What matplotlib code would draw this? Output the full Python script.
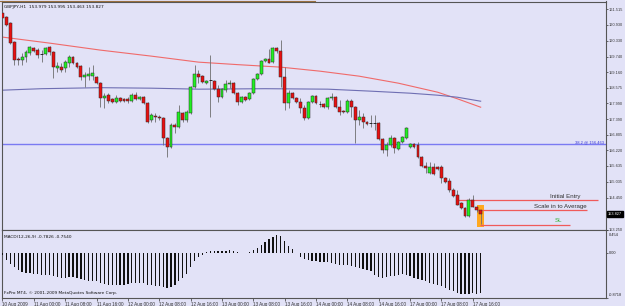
import matplotlib
matplotlib.use("Agg")
import matplotlib.pyplot as plt
import matplotlib.transforms as mtrans
from matplotlib.lines import Line2D
from matplotlib.patches import Rectangle

# ---------------- data ----------------
title_text = "GBPJPY,H1  153.979 153.995 153.463 153.827"

opens = [161.376, 161.226, 161.000, 160.286, 159.647, 159.609, 159.722, 159.872, 160.060, 159.985,
         159.833, 159.833, 160.098, 159.910, 159.308, 159.346, 159.308, 159.496, 159.722, 159.496,
         159.383, 158.970, 159.007, 159.007, 158.970, 158.744, 158.180, 158.293, 158.143, 158.030,
         158.180, 158.143, 158.143, 158.067, 158.293, 158.143, 158.218, 157.992, 157.353, 157.503,
         157.466, 157.428, 156.677, 156.338, 157.165, 157.090, 157.616, 157.353, 157.616, 158.594,
         159.083, 159.007, 158.744, 158.857, 158.819, 158.519, 158.218, 158.481, 158.707, 158.744,
         158.368, 158.030, 158.218, 158.143, 158.368, 158.895, 159.083, 159.571, 159.647, 159.534,
         160.060, 159.947, 158.970, 157.992, 158.368, 158.180, 158.030, 157.804, 157.428, 158.030,
         158.255, 157.955, 157.955, 157.842, 158.180, 158.218, 157.842, 157.691, 157.654, 158.067,
         157.842, 157.353, 157.466, 157.278, 157.240, 157.240, 157.240, 156.639, 156.225, 156.413,
         156.677, 156.263, 156.526, 156.677, 156.338, 156.451, 156.413, 155.962, 155.623, 155.361,
         155.586, 155.586, 155.586, 155.172, 155.059, 154.721, 154.533, 154.232, 154.044, 153.743,
         154.345, 154.082, 153.979]
highs = [161.451, 161.263, 161.038, 160.323, 159.722, 159.872, 159.985, 160.135, 160.098, 160.060,
         159.985, 160.098, 160.135, 159.947, 159.534, 159.496, 159.609, 159.797, 159.759, 159.534,
         159.421, 159.158, 159.346, 159.421, 159.007, 158.782, 158.368, 158.368, 158.180, 158.293,
         158.218, 158.180, 158.218, 158.368, 158.406, 158.255, 158.255, 158.030, 157.616, 157.616,
         157.541, 157.466, 156.714, 157.240, 157.240, 157.917, 157.654, 157.729, 158.631, 159.421,
         159.233, 159.045, 158.857, 159.797, 158.857, 158.669, 158.556, 158.857, 158.857, 158.782,
         158.406, 158.255, 158.255, 158.406, 158.932, 159.120, 159.609, 159.684, 160.023, 160.098,
         160.098, 160.361, 159.346, 158.481, 158.406, 158.218, 158.180, 157.917, 158.067, 158.293,
         158.293, 158.067, 157.992, 158.218, 158.368, 158.255, 158.105, 157.729, 158.143, 158.143,
         157.879, 157.729, 157.616, 157.315, 157.541, 157.541, 157.278, 156.677, 156.526, 156.789,
         156.714, 156.563, 156.751, 157.090, 156.488, 156.488, 156.526, 155.999, 155.774, 155.774,
         155.736, 155.623, 155.661, 155.210, 155.172, 154.797, 154.721, 154.270, 154.082, 154.420,
         154.533, 154.119, 153.995]
lows = [161.150, 160.887, 160.211, 159.421, 159.421, 159.421, 159.534, 159.797, 159.910, 159.684,
        159.534, 159.797, 159.797, 158.932, 159.158, 159.158, 159.158, 159.346, 159.459, 159.308,
        158.857, 158.594, 158.857, 158.857, 158.707, 157.842, 157.804, 157.992, 157.992, 157.992,
        158.030, 158.030, 157.992, 158.030, 158.105, 158.105, 157.955, 157.240, 157.278, 157.278,
        157.353, 156.413, 155.962, 156.300, 156.864, 157.052, 157.278, 157.278, 157.579, 158.556,
        158.744, 158.744, 158.707, 157.466, 158.481, 158.030, 158.180, 158.406, 158.556, 158.331,
        157.917, 157.992, 158.067, 158.105, 158.331, 158.857, 159.045, 159.534, 159.496, 159.496,
        159.872, 158.594, 157.729, 157.804, 158.143, 157.992, 157.616, 157.353, 157.391, 157.992,
        157.955, 157.842, 157.804, 157.766, 158.105, 157.804, 157.541, 157.616, 157.616, 157.466,
        156.488, 157.165, 157.052, 157.165, 157.090, 156.977, 156.601, 156.112, 155.999, 156.338,
        156.112, 156.225, 156.488, 156.639, 156.300, 156.300, 155.924, 155.586, 155.361, 155.323,
        155.285, 155.473, 154.984, 154.984, 154.646, 154.458, 154.157, 154.007, 153.706, 153.706,
        154.082, 153.894, 153.463]
closes = [161.188, 160.925, 160.248, 159.609, 159.609, 159.722, 159.910, 160.098, 159.947, 159.797,
          159.833, 160.060, 159.910, 159.346, 159.383, 159.233, 159.534, 159.722, 159.496, 159.346,
          158.970, 159.045, 159.083, 159.120, 158.744, 158.180, 158.255, 158.067, 158.030, 158.180,
          158.067, 158.067, 158.067, 158.293, 158.143, 158.218, 157.992, 157.278, 157.541, 157.466,
          157.428, 156.677, 156.338, 157.165, 157.090, 157.654, 157.353, 157.654, 158.594, 159.083,
          158.970, 158.782, 158.819, 158.857, 158.519, 158.218, 158.519, 158.707, 158.744, 158.368,
          158.030, 158.218, 158.105, 158.368, 158.895, 159.083, 159.571, 159.647, 159.496, 160.060,
          159.947, 158.970, 157.992, 158.368, 158.180, 158.030, 157.804, 157.428, 158.030, 158.255,
          157.992, 157.955, 157.842, 158.180, 158.218, 157.842, 157.654, 157.654, 158.067, 157.842,
          157.353, 157.466, 157.278, 157.203, 157.240, 157.240, 156.639, 156.225, 156.413, 156.677,
          156.300, 156.526, 156.714, 157.052, 156.451, 156.338, 155.962, 155.623, 155.548, 155.586,
          155.323, 155.511, 155.172, 155.022, 154.721, 154.495, 154.157, 154.044, 153.743, 154.345,
          154.082, 153.979, 153.827]

# moving averages: (bar index, value) read at points along each line
ma_red_idx = [0, 12, 25, 38, 50, 60, 71, 81, 91, 101, 111, 116, 122]
ma_red_val = [160.474, 160.248, 159.985, 159.759, 159.534, 159.440, 159.346, 159.195,
              159.007, 158.744, 158.406, 158.161, 157.842]
ma_blue_idx = [0, 10, 25, 38, 50, 67, 83, 94, 104, 111, 116, 122]
ma_blue_val = [158.481, 158.537, 158.575, 158.556, 158.519, 158.537, 158.519, 158.444,
               158.368, 158.293, 158.218, 158.067]

macd = [-0.033, -0.119, -0.205, -0.271, -0.330, -0.363, -0.383, -0.383, -0.396, -0.403,
        -0.416, -0.416, -0.416, -0.449, -0.469, -0.482, -0.482, -0.469, -0.469, -0.482,
        -0.502, -0.528, -0.535, -0.535, -0.548, -0.581, -0.601, -0.614, -0.614, -0.614,
        -0.614, -0.614, -0.601, -0.587, -0.581, -0.581, -0.587, -0.614, -0.627, -0.634,
        -0.640, -0.653, -0.680, -0.653, -0.614, -0.535, -0.482, -0.403, -0.271, -0.152,
        -0.073, -0.033, 0.033, 0.046, 0.053, 0.046, 0.046, 0.053, 0.059, 0.046,
        0.026, 0.013, 0.013, 0.033, 0.059, 0.099, 0.165, 0.224, 0.277, 0.330,
        0.363, 0.337, 0.244, 0.145, 0.079, 0.013, -0.066, -0.106, -0.125, -0.145,
        -0.152, -0.165, -0.165, -0.165, -0.178, -0.198, -0.218, -0.218, -0.218, -0.244,
        -0.264, -0.284, -0.297, -0.317, -0.350, -0.416, -0.462, -0.475, -0.462, -0.442,
        -0.442, -0.416, -0.396, -0.416, -0.442, -0.482, -0.508, -0.528, -0.548, -0.574,
        -0.594, -0.614, -0.640, -0.667, -0.706, -0.739, -0.772, -0.792, -0.799, -0.792,
        -0.779, -0.785, -0.783]

price_ticks = [161.515, 160.930, 160.330, 159.740, 159.160, 158.575, 157.990, 157.390,
               156.805, 156.220, 155.635, 155.035, 154.450, 153.250]
current_price = 153.827
macd_ticks = [0.454, 0.0, -0.8718]
macd_tick_labels = ["0.454", "0.00", "-0.8718"]
macd_title = "MACD(12,26,9) -0.7826 -0.7540"
copyright_text = "FxPro MT4, \u00a9 2001-2009 MetaQuotes Software Corp."

time_tick_idx = list(range(0, 121, 8))
time_tick_labels = ["10 Aug 2009", "11 Aug 00:00", "11 Aug 08:00", "11 Aug 16:00",
                    "12 Aug 00:00", "12 Aug 08:00", "12 Aug 16:00", "13 Aug 00:00",
                    "13 Aug 08:00", "13 Aug 16:00", "14 Aug 00:00", "14 Aug 08:00",
                    "14 Aug 16:00", "17 Aug 00:00", "17 Aug 08:00", "17 Aug 16:00"]

fib_level = 156.463
fib_label = "38.2 @ 156.463"

# trade levels: (label, price, start bar, end bar, label bar, label price, colour)
entry_price = 154.345
scale_price = 153.969
sl_price = 153.424
levels = [
    ("Initial Entry", entry_price, 116.0, 151.9, 139.7, 154.50, "#303030"),
    ("Scale in to Average", scale_price, 121.0, 149.1, 135.6, 154.10, "#303030"),
    ("SL", sl_price, 121.8, 144.8, 141.0, 153.59, "#30b030"),
]
highlight_top = 154.16
highlight_bottom = 153.34

# ---------------- styling / layout ----------------
W, H = 625, 306
BG = "#e2e2f7"
FONT = "DejaVu Sans"
LAB = "Liberation Sans"
FS = 3.1

fig = plt.figure(figsize=(W / 100, H / 100), dpi=100)
fig.patch.set_facecolor(BG)


def px_rect(left, top, right, bottom):
    return [left / W, 1 - bottom / H, (right - left) / W, (bottom - top) / H]


ax = fig.add_axes(px_rect(1.7, 1.5, 605.7, 229.8))
ax2 = fig.add_axes(px_rect(1.7, 230.3, 605.7, 298.0))

XLIM = (-0.2, 153.9)
for a in (ax, ax2):
    a.set_facecolor(BG)
    a.set_xlim(*XLIM)
    for s in a.spines.values():
        s.set_color("#555555")
        s.set_linewidth(0.8)

ax.set_ylim(153.24, 161.81)
ax2.set_ylim(-0.8718, 0.454)

# ---------- main chart ----------
idx = list(range(len(opens)))

# fib level line
ax.axhline(fib_level, color="#7a7af2", lw=1.0, zorder=1)
ax.text(0.998, fib_level, fib_label, transform=mtrans.blended_transform_factory(ax.transAxes, ax.transData),
        ha="right", va="bottom", fontsize=3.0, color="#3a3ad8", family=LAB)

# moving averages
ax.plot(ma_red_idx, ma_red_val, color="#f06a6a", lw=0.8, zorder=2)
ax.plot(ma_blue_idx, ma_blue_val, color="#6f6fb3", lw=0.8, zorder=2)

# highlight box behind last candle
last = idx[-1]
ax.add_patch(Rectangle((last - 0.85, highlight_bottom), 1.7, highlight_top - highlight_bottom,
                       facecolor="#ffa820", edgecolor="none", zorder=2))

# trade levels
for lab, price, x0, x1, lx, ly, col in levels:
    ax.hlines(price, x0, x1, color="#f05a5a", lw=0.9, zorder=3)
    ax.text(lx, ly, lab, fontsize=4.4, color=col, family=LAB, va="center", ha="left", zorder=5)

# candles
BW = 0.74
for i in idx:
    o, h, l, c = opens[i], highs[i], lows[i], closes[i]
    ax.vlines(i, l, h, color="#6e6e6e", lw=0.6, zorder=4)
    if c > o:
        ax.bar(i, c - o, bottom=o, width=BW, color="#22f022", edgecolor="#2a2a2a", lw=0.35, zorder=5)
    elif c < o:
        ax.bar(i, o - c, bottom=c, width=BW, color="#e81010", edgecolor="#2a2a2a", lw=0.35, zorder=5)
    else:
        ax.hlines(o, i - BW / 2, i + BW / 2, color="#111111", lw=0.6, zorder=5)

ax.set_xticks([])
ax.yaxis.tick_right()
ax.set_yticks(price_ticks)
ax.set_yticklabels([f"{v:.3f}" for v in price_ticks], fontsize=2.8, family=LAB, color="#222222")
ax.tick_params(axis="y", length=1.6, width=0.5, pad=0.5, colors="#333333")

ax.annotate(f"{current_price:.3f}", xy=(1.0, current_price), xycoords=("axes fraction", "data"),
            xytext=(1.6, 0), textcoords="offset points", ha="left", va="center",
            fontsize=2.8, family=LAB, color="white",
            bbox=dict(boxstyle="square,pad=0.3", fc="black", ec="black"), zorder=10,
            annotation_clip=False)

ax.text(0.003, 0.985, title_text, transform=ax.transAxes, ha="left", va="top",
        fontsize=FS, family=FONT, color="#111111")

# ---------- MACD ----------
ax2.bar(idx, macd, width=0.32, color="#111111", zorder=3)
ax2.yaxis.tick_right()
ax2.set_yticks(macd_ticks)
ax2.set_yticklabels([])
ax2.tick_params(axis="y", length=1.6, width=0.5, colors="#333333")
macd_label_shift = [-2.0, 0.0, 1.0]   # points: keep end labels inside the pane
macd_label_va = ["top", "center", "bottom"]
for v, lab, dy, va in zip(macd_ticks, macd_tick_labels, macd_label_shift, macd_label_va):
    ax2.annotate(lab, xy=(1.0, v), xycoords=("axes fraction", "data"),
                 xytext=(2.1, dy), textcoords="offset points", ha="left", va=va,
                 fontsize=2.8, family=LAB, color="#222222", annotation_clip=False)

ax2.set_xticks(time_tick_idx)
ax2.set_xticklabels(time_tick_labels, fontsize=3.3, family=LAB, color="#222222")
for t in ax2.get_xticklabels():
    t.set_ha("left")
ax2.tick_params(axis="x", length=2.2, width=0.5, pad=0.5, colors="#333333")

ax2.text(0.003, 0.93, macd_title, transform=ax2.transAxes, ha="left", va="top",
         fontsize=FS, family=FONT, color="#111111")
ax2.text(0.003, 0.04, copyright_text, transform=ax2.transAxes, ha="left", va="bottom",
         fontsize=FS, family=FONT, color="#111111")

# top border tint as in the terminal window
fig.add_artist(Line2D([0, 315 / W], [1 - 1.0 / H] * 2, color="#9a7040", lw=0.8))

fig.savefig("out.png", dpi=100, facecolor=BG)
